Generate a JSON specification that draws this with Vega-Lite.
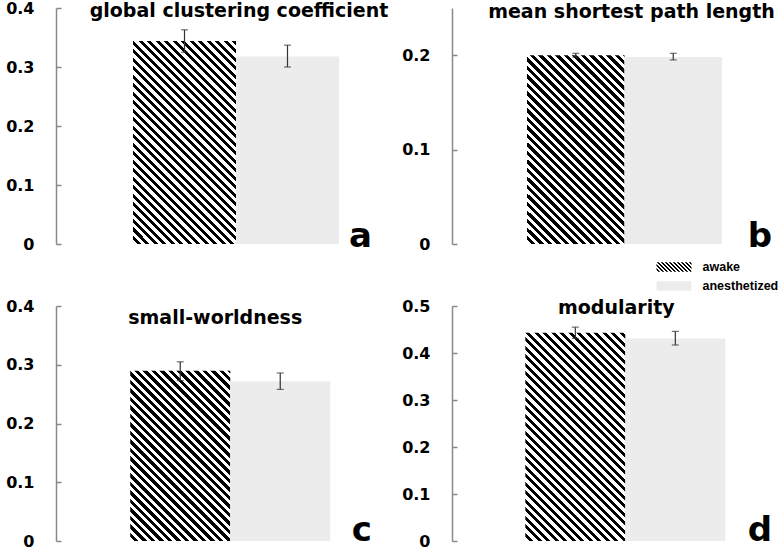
{
  "$schema": "https://vega.github.io/schema/vega-lite/v6.json",
  "background": "white",
  "padding": {"left": 5, "top": 0, "right": 0, "bottom": 0},
  "params": [
    {"name": "hatch", "value": [
      {"offset":0,"color":"#fff"},{"offset":0.0125,"color":"#fff"},{"offset":0.0125,"color":"#000"},{"offset":0.025,"color":"#000"},
      {"offset":0.025,"color":"#fff"},{"offset":0.0375,"color":"#fff"},{"offset":0.0375,"color":"#000"},{"offset":0.05,"color":"#000"},
      {"offset":0.05,"color":"#fff"},{"offset":0.0625,"color":"#fff"},{"offset":0.0625,"color":"#000"},{"offset":0.075,"color":"#000"},
      {"offset":0.075,"color":"#fff"},{"offset":0.0875,"color":"#fff"},{"offset":0.0875,"color":"#000"},{"offset":0.1,"color":"#000"},
      {"offset":0.1,"color":"#fff"},{"offset":0.1125,"color":"#fff"},{"offset":0.1125,"color":"#000"},{"offset":0.125,"color":"#000"},
      {"offset":0.125,"color":"#fff"},{"offset":0.1375,"color":"#fff"},{"offset":0.1375,"color":"#000"},{"offset":0.15,"color":"#000"},
      {"offset":0.15,"color":"#fff"},{"offset":0.1625,"color":"#fff"},{"offset":0.1625,"color":"#000"},{"offset":0.175,"color":"#000"},
      {"offset":0.175,"color":"#fff"},{"offset":0.1875,"color":"#fff"},{"offset":0.1875,"color":"#000"},{"offset":0.2,"color":"#000"},
      {"offset":0.2,"color":"#fff"},{"offset":0.2125,"color":"#fff"},{"offset":0.2125,"color":"#000"},{"offset":0.225,"color":"#000"},
      {"offset":0.225,"color":"#fff"},{"offset":0.2375,"color":"#fff"},{"offset":0.2375,"color":"#000"},{"offset":0.25,"color":"#000"},
      {"offset":0.25,"color":"#fff"},{"offset":0.2625,"color":"#fff"},{"offset":0.2625,"color":"#000"},{"offset":0.275,"color":"#000"},
      {"offset":0.275,"color":"#fff"},{"offset":0.2875,"color":"#fff"},{"offset":0.2875,"color":"#000"},{"offset":0.3,"color":"#000"},
      {"offset":0.3,"color":"#fff"},{"offset":0.3125,"color":"#fff"},{"offset":0.3125,"color":"#000"},{"offset":0.325,"color":"#000"},
      {"offset":0.325,"color":"#fff"},{"offset":0.3375,"color":"#fff"},{"offset":0.3375,"color":"#000"},{"offset":0.35,"color":"#000"},
      {"offset":0.35,"color":"#fff"},{"offset":0.3625,"color":"#fff"},{"offset":0.3625,"color":"#000"},{"offset":0.375,"color":"#000"},
      {"offset":0.375,"color":"#fff"},{"offset":0.3875,"color":"#fff"},{"offset":0.3875,"color":"#000"},{"offset":0.4,"color":"#000"},
      {"offset":0.4,"color":"#fff"},{"offset":0.4125,"color":"#fff"},{"offset":0.4125,"color":"#000"},{"offset":0.425,"color":"#000"},
      {"offset":0.425,"color":"#fff"},{"offset":0.4375,"color":"#fff"},{"offset":0.4375,"color":"#000"},{"offset":0.45,"color":"#000"},
      {"offset":0.45,"color":"#fff"},{"offset":0.4625,"color":"#fff"},{"offset":0.4625,"color":"#000"},{"offset":0.475,"color":"#000"},
      {"offset":0.475,"color":"#fff"},{"offset":0.4875,"color":"#fff"},{"offset":0.4875,"color":"#000"},{"offset":0.5,"color":"#000"},
      {"offset":0.5,"color":"#fff"},{"offset":0.5125,"color":"#fff"},{"offset":0.5125,"color":"#000"},{"offset":0.525,"color":"#000"},
      {"offset":0.525,"color":"#fff"},{"offset":0.5375,"color":"#fff"},{"offset":0.5375,"color":"#000"},{"offset":0.55,"color":"#000"},
      {"offset":0.55,"color":"#fff"},{"offset":0.5625,"color":"#fff"},{"offset":0.5625,"color":"#000"},{"offset":0.575,"color":"#000"},
      {"offset":0.575,"color":"#fff"},{"offset":0.5875,"color":"#fff"},{"offset":0.5875,"color":"#000"},{"offset":0.6,"color":"#000"},
      {"offset":0.6,"color":"#fff"},{"offset":0.6125,"color":"#fff"},{"offset":0.6125,"color":"#000"},{"offset":0.625,"color":"#000"},
      {"offset":0.625,"color":"#fff"},{"offset":0.6375,"color":"#fff"},{"offset":0.6375,"color":"#000"},{"offset":0.65,"color":"#000"},
      {"offset":0.65,"color":"#fff"},{"offset":0.6625,"color":"#fff"},{"offset":0.6625,"color":"#000"},{"offset":0.675,"color":"#000"},
      {"offset":0.675,"color":"#fff"},{"offset":0.6875,"color":"#fff"},{"offset":0.6875,"color":"#000"},{"offset":0.7,"color":"#000"},
      {"offset":0.7,"color":"#fff"},{"offset":0.7125,"color":"#fff"},{"offset":0.7125,"color":"#000"},{"offset":0.725,"color":"#000"},
      {"offset":0.725,"color":"#fff"},{"offset":0.7375,"color":"#fff"},{"offset":0.7375,"color":"#000"},{"offset":0.75,"color":"#000"},
      {"offset":0.75,"color":"#fff"},{"offset":0.7625,"color":"#fff"},{"offset":0.7625,"color":"#000"},{"offset":0.775,"color":"#000"},
      {"offset":0.775,"color":"#fff"},{"offset":0.7875,"color":"#fff"},{"offset":0.7875,"color":"#000"},{"offset":0.8,"color":"#000"},
      {"offset":0.8,"color":"#fff"},{"offset":0.8125,"color":"#fff"},{"offset":0.8125,"color":"#000"},{"offset":0.825,"color":"#000"},
      {"offset":0.825,"color":"#fff"},{"offset":0.8375,"color":"#fff"},{"offset":0.8375,"color":"#000"},{"offset":0.85,"color":"#000"},
      {"offset":0.85,"color":"#fff"},{"offset":0.8625,"color":"#fff"},{"offset":0.8625,"color":"#000"},{"offset":0.875,"color":"#000"},
      {"offset":0.875,"color":"#fff"},{"offset":0.8875,"color":"#fff"},{"offset":0.8875,"color":"#000"},{"offset":0.9,"color":"#000"},
      {"offset":0.9,"color":"#fff"},{"offset":0.9125,"color":"#fff"},{"offset":0.9125,"color":"#000"},{"offset":0.925,"color":"#000"},
      {"offset":0.925,"color":"#fff"},{"offset":0.9375,"color":"#fff"},{"offset":0.9375,"color":"#000"},{"offset":0.95,"color":"#000"},
      {"offset":0.95,"color":"#fff"},{"offset":0.9625,"color":"#fff"},{"offset":0.9625,"color":"#000"},{"offset":0.975,"color":"#000"},
      {"offset":0.975,"color":"#fff"},{"offset":0.9875,"color":"#fff"},{"offset":0.9875,"color":"#000"},{"offset":1,"color":"#000"}
    ]}
  ],
  "datasets": {
    "metrics": [
      {"panel":"a","group":"awake","value":0.344,"lo":0.325,"hi":0.363},
      {"panel":"a","group":"anesthetized","value":0.318,"lo":0.300,"hi":0.337},
      {"panel":"b","group":"awake","value":0.200,"lo":0.198,"hi":0.202},
      {"panel":"b","group":"anesthetized","value":0.198,"lo":0.195,"hi":0.202},
      {"panel":"c","group":"awake","value":0.290,"lo":0.273,"hi":0.305},
      {"panel":"c","group":"anesthetized","value":0.272,"lo":0.258,"hi":0.286},
      {"panel":"d","group":"awake","value":0.443,"lo":0.431,"hi":0.455},
      {"panel":"d","group":"anesthetized","value":0.431,"lo":0.417,"hi":0.446}
    ]
  },
  "data": {"name": "metrics"},
  "columns": 2,
  "spacing": {"row": 62, "column": 80},
  "bounds": "flush",
  "config": {
    "view": {"stroke": null},
    "axis": {
      "labelFont": "DejaVu Sans", "labelFontWeight": "bold", "labelFontSize": 16, "labelColor": "#000",
      "domainColor": "#888", "domainWidth": 1.5, "tickColor": "#888", "tickWidth": 1.5, "tickSize": -5,
      "labelPadding": 27, "grid": false
    },
    "text": {"font": "DejaVu Sans", "fontWeight": "bold", "color": "#000"}
  },
  "concat": [
    {
      "width": 316, "height": 236,
      "transform": [{"filter": "datum.panel === 'a'"}],
      "layer": [
        {"transform": [{"filter": "datum.group === 'awake'"}],
         "mark": {"type": "bar", "fill": {"expr": "{gradient:'linear',x1:0,y1:1,x2:0.676,y2:-0.332,stops:hatch}"}},
         "encoding": {
           "x": {"field": "group", "type": "nominal", "axis": null, "scale": {"domain": ["awake","anesthetized"], "paddingInner": 0, "paddingOuter": 0.534, "align": 0.7}},
           "y": {"field": "value", "type": "quantitative", "title": null, "scale": {"domain": [0,0.4], "nice": false}, "axis": {"title": null, "values": [0,0.1,0.2,0.3,0.4], "format": "~g"}}}},
        {"transform": [{"filter": "datum.group === 'anesthetized'"}],
         "mark": {"type": "bar", "fill": "#ececec"},
         "encoding": {
           "x": {"field": "group", "type": "nominal", "axis": null, "scale": {"domain": ["awake","anesthetized"], "paddingInner": 0, "paddingOuter": 0.534, "align": 0.7}},
           "y": {"field": "value", "type": "quantitative", "title": null}}},
        {"mark": {"type": "errorbar", "ticks": true, "size": 7, "color": "#333", "thickness": 1.2},
         "encoding": {
           "x": {"field": "group", "type": "nominal", "axis": null},
           "y": {"field": "lo", "type": "quantitative", "title": null},
           "y2": {"field": "hi"}}},
        {"data": {"values": [{}]},
         "mark": {"type": "text", "text": "global clustering coefficient", "fontSize": 19, "baseline": "middle", "dx": 3},
         "encoding": {"x": {"datum": "awake", "type": "nominal", "bandPosition": 1, "axis": null}, "y": {"datum": 0.395, "type": "quantitative", "title": null}}},
        {"data": {"values": [{}]},
         "mark": {"type": "text", "text": "a", "fontSize": 34, "align": "right", "baseline": "alphabetic", "dy": 3},
         "encoding": {"x": {"value": "width"}, "y": {"value": "height"}}}
      ]
    },
    {
      "width": 320, "height": 236,
      "transform": [{"filter": "datum.panel === 'b'"}],
      "layer": [
        {"transform": [{"filter": "datum.group === 'awake'"}],
         "mark": {"type": "bar", "fill": {"expr": "{gradient:'linear',x1:0,y1:1,x2:0.734,y2:-0.422,stops:hatch}"}},
         "encoding": {
           "x": {"field": "group", "type": "nominal", "axis": null, "scale": {"domain": ["awake","anesthetized"], "paddingInner": 0, "paddingOuter": 0.641, "align": 0.6}},
           "y": {"field": "value", "type": "quantitative", "title": null, "scale": {"domain": [0,0.25], "nice": false}, "axis": {"title": null, "values": [0,0.1,0.2], "format": "~g"}}}},
        {"transform": [{"filter": "datum.group === 'anesthetized'"}],
         "mark": {"type": "bar", "fill": "#ececec"},
         "encoding": {
           "x": {"field": "group", "type": "nominal", "axis": null, "scale": {"domain": ["awake","anesthetized"], "paddingInner": 0, "paddingOuter": 0.641, "align": 0.6}},
           "y": {"field": "value", "type": "quantitative", "title": null}}},
        {"mark": {"type": "errorbar", "ticks": true, "size": 7, "color": "#333", "thickness": 1.2},
         "encoding": {
           "x": {"field": "group", "type": "nominal", "axis": null},
           "y": {"field": "lo", "type": "quantitative", "title": null},
           "y2": {"field": "hi"}}},
        {"data": {"values": [{}]},
         "mark": {"type": "text", "text": "mean shortest path length", "fontSize": 19, "baseline": "middle", "dx": 7},
         "encoding": {"x": {"datum": "awake", "type": "nominal", "bandPosition": 1, "axis": null}, "y": {"datum": 0.246, "type": "quantitative", "title": null}}},
        {"data": {"values": [{}]},
         "mark": {"type": "text", "text": "b", "fontSize": 34, "align": "right", "baseline": "alphabetic", "dy": 3},
         "encoding": {"x": {"value": "width"}, "y": {"value": "height"}}}
      ]
    },
    {
      "width": 316, "height": 235,
      "transform": [{"filter": "datum.panel === 'c'"}],
      "layer": [
        {"transform": [{"filter": "datum.group === 'awake'"}],
         "mark": {"type": "bar", "fill": {"expr": "{gradient:'linear',x1:0,y1:1,x2:0.871,y2:-0.484,stops:hatch}"}},
         "encoding": {
           "x": {"field": "group", "type": "nominal", "axis": null, "scale": {"domain": ["awake","anesthetized"], "paddingInner": 0, "paddingOuter": 0.58, "align": 0.64}},
           "y": {"field": "value", "type": "quantitative", "title": null, "scale": {"domain": [0,0.4], "nice": false}, "axis": {"title": null, "values": [0,0.1,0.2,0.3,0.4], "format": "~g"}}}},
        {"transform": [{"filter": "datum.group === 'anesthetized'"}],
         "mark": {"type": "bar", "fill": "#ececec"},
         "encoding": {
           "x": {"field": "group", "type": "nominal", "axis": null, "scale": {"domain": ["awake","anesthetized"], "paddingInner": 0, "paddingOuter": 0.58, "align": 0.64}},
           "y": {"field": "value", "type": "quantitative", "title": null}}},
        {"mark": {"type": "errorbar", "ticks": true, "size": 7, "color": "#333", "thickness": 1.2},
         "encoding": {
           "x": {"field": "group", "type": "nominal", "axis": null},
           "y": {"field": "lo", "type": "quantitative", "title": null},
           "y2": {"field": "hi"}}},
        {"data": {"values": [{}]},
         "mark": {"type": "text", "text": "small-worldness", "fontSize": 19, "baseline": "middle", "dx": -15},
         "encoding": {"x": {"datum": "awake", "type": "nominal", "bandPosition": 1, "axis": null}, "y": {"datum": 0.38, "type": "quantitative", "title": null}}},
        {"data": {"values": [{}]},
         "mark": {"type": "text", "text": "c", "fontSize": 34, "align": "right", "baseline": "alphabetic", "dy": 0},
         "encoding": {"x": {"value": "width"}, "y": {"value": "height"}}}
      ]
    },
    {
      "width": 320, "height": 235,
      "transform": [{"filter": "datum.panel === 'd'"}],
      "layer": [
        {"transform": [{"filter": "datum.group === 'awake'"}],
         "mark": {"type": "bar", "fill": {"expr": "{gradient:'linear',x1:0,y1:1,x2:0.637,y2:-0.327,stops:hatch}"}},
         "encoding": {
           "x": {"field": "group", "type": "nominal", "axis": null, "scale": {"domain": ["awake","anesthetized"], "paddingInner": 0, "paddingOuter": 0.6, "align": 0.611}},
           "y": {"field": "value", "type": "quantitative", "title": null, "scale": {"domain": [0,0.5], "nice": false}, "axis": {"title": null, "values": [0,0.1,0.2,0.3,0.4,0.5], "format": "~g"}}}},
        {"transform": [{"filter": "datum.group === 'anesthetized'"}],
         "mark": {"type": "bar", "fill": "#ececec"},
         "encoding": {
           "x": {"field": "group", "type": "nominal", "axis": null, "scale": {"domain": ["awake","anesthetized"], "paddingInner": 0, "paddingOuter": 0.6, "align": 0.611}},
           "y": {"field": "value", "type": "quantitative", "title": null}}},
        {"mark": {"type": "errorbar", "ticks": true, "size": 7, "color": "#333", "thickness": 1.2},
         "encoding": {
           "x": {"field": "group", "type": "nominal", "axis": null},
           "y": {"field": "lo", "type": "quantitative", "title": null},
           "y2": {"field": "hi"}}},
        {"mark": {"type": "point", "filled": true, "opacity": 0},
         "encoding": {
           "x": {"field": "group", "type": "nominal", "axis": null},
           "y": {"field": "value", "type": "quantitative", "title": null},
           "color": {"field": "group", "type": "nominal",
             "scale": {"domain": ["awake","anesthetized"], "range": [{"expr": "{gradient:'linear',x1:0,y1:1,x2:4.26,y2:-0.15,stops:hatch}"}, "#ececec"]},
             "legend": {
               "orient": "none", "legendX": 609, "legendY": 250, "title": null, "padding": 0,
               "symbolType": "M-2,-0.54H2V0.54H-2Z", "symbolSize": 306, "symbolStrokeWidth": 0, "symbolOpacity": 1,
               "labelFont": "Liberation Sans", "labelFontWeight": "bold", "labelFontSize": 12.5, "labelColor": "#000",
               "labelOffset": 19.5, "rowPadding": 3
             }}}},
        {"data": {"values": [{}]},
         "mark": {"type": "text", "text": "modularity", "fontSize": 19, "baseline": "middle", "dx": -9},
         "encoding": {"x": {"datum": "awake", "type": "nominal", "bandPosition": 1, "axis": null}, "y": {"datum": 0.495, "type": "quantitative", "title": null}}},
        {"data": {"values": [{}]},
         "mark": {"type": "text", "text": "d", "fontSize": 34, "align": "right", "baseline": "alphabetic", "dy": 0},
         "encoding": {"x": {"value": "width"}, "y": {"value": "height"}}}
      ]
    }
  ]
}
